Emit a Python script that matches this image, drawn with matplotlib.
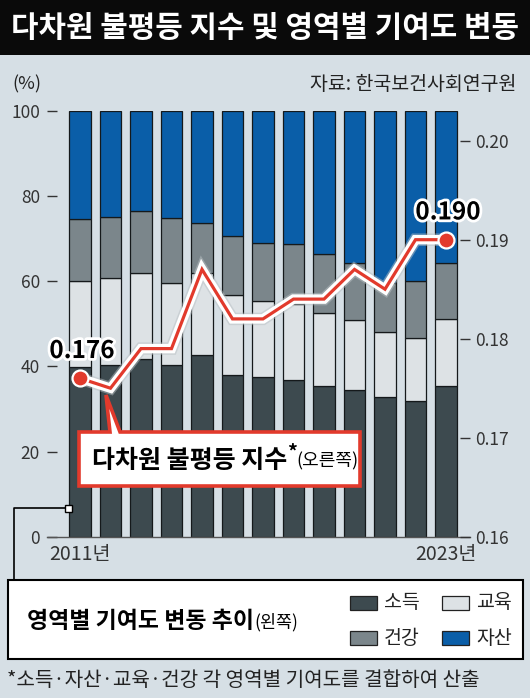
import matplotlib
matplotlib.use("Agg")
import matplotlib.pyplot as plt
import matplotlib.patheffects as pe
from matplotlib.patches import Rectangle, Polygon
from matplotlib.lines import Line2D
import numpy as np

plt.rcParams['font.family'] = ['Noto Sans CJK KR', 'DejaVu Sans']

# ---------------- data ----------------
years = [str(y) for y in range(2011, 2024)]
income = [39.8, 40.3, 41.8, 40.4, 42.6, 38.1, 37.6, 36.8, 35.3, 34.4, 32.7, 31.8, 35.4]   # 소득
education = [20.2, 20.5, 20.1, 19.3, 19.4, 18.7, 17.8, 17.8, 17.2, 16.6, 15.4, 14.8, 15.8]  # 교육
health = [14.6, 14.4, 14.7, 15.1, 11.8, 13.9, 13.5, 14.2, 13.9, 13.4, 11.4, 13.4, 13.1]     # 건강
assets = [25.4, 24.8, 23.4, 25.2, 26.2, 29.3, 31.1, 31.2, 33.6, 35.6, 40.5, 40.0, 35.7]     # 자산
index_vals = [0.176, 0.175, 0.179, 0.179, 0.187, 0.182, 0.182, 0.184, 0.184, 0.187, 0.185, 0.190, 0.190]
left_ticks = [0, 20, 40, 60, 80, 100]
right_ticks = [0.16, 0.17, 0.18, 0.19, 0.20]
right_tick_labels = ['0.16', '0.17', '0.18', '0.19', '0.20']
series_names = ['소득', '교육', '건강', '자산']

# ---------------- style ----------------
W, H = 530, 698
BG = '#d6dfe5'
C_INC = '#3d4a4f'
C_EDU = '#dde2e5'
C_HEA = '#7b868b'
C_AST = '#0a5ea8'
RED = '#e23a2c'
TXT = '#222222'


def P(x, y):
    return (x / W, 1 - y / H)


fig = plt.figure(figsize=(W / 100, H / 100), dpi=100)
fig.patch.set_facecolor(BG)

ax_l, ax_r, ax_t, ax_b = 47, 470, 111, 536.7
ax = fig.add_axes([ax_l / W, 1 - ax_b / H, (ax_r - ax_l) / W, (ax_b - ax_t) / H])
ax.set_facecolor('none')

x = np.arange(len(years))
cols = [C_INC, C_EDU, C_HEA, C_AST]
bottom = np.zeros(len(years))
for vals, c in zip([income, education, health, assets], cols):
    ax.bar(x, vals, bottom=bottom, width=0.72, color=c, edgecolor='#15191b', linewidth=0.9, zorder=2)
    bottom += np.array(vals)

ax.set_xlim(-1.082, 12.787)
ax.set_ylim(0, 100)
for s in ['top', 'left', 'right']:
    ax.spines[s].set_visible(False)
ax.spines['bottom'].set_color('#555555')
ax.spines['bottom'].set_linewidth(1.0)
ax.set_yticks(left_ticks)
ax.set_yticklabels([str(t) for t in left_ticks])
ax.tick_params(axis='y', direction='in', length=7, width=1, color='#333333',
               labelsize=12.5, labelcolor='#333333', pad=5)
ax.set_xticks([0, len(years) - 1])
ax.set_xticklabels([years[0] + '년', years[-1] + '년'])
ax.tick_params(axis='x', length=0, labelsize=14, labelcolor='#333333', pad=5)

ax2 = ax.twinx()
ax2.set_facecolor('none')
ax2.set_ylim(0.16, 0.16 + (ax_b - ax_t) / 9900.0)
for s in ['top', 'left', 'right', 'bottom']:
    ax2.spines[s].set_visible(False)
ax2.set_yticks(right_ticks)
ax2.set_yticklabels(right_tick_labels)
ax2.tick_params(axis='y', direction='in', length=7, width=1, color='#333333',
                labelsize=12.5, labelcolor='#333333', pad=4)

line, = ax2.plot(x, index_vals, color=RED, lw=2.3, solid_joinstyle='miter', zorder=5,
                 path_effects=[pe.Stroke(linewidth=9, foreground='#b8c0c4', alpha=0.5),
                               pe.Stroke(linewidth=6.8, foreground='white'), pe.Normal()])
for i in [0, len(years) - 1]:
    ax2.plot(x[i], index_vals[i], 'o', ms=11.5, mfc=RED, mec='white', mew=1.6, zorder=6)
    ax2.annotate(f'{index_vals[i]:.3f}', (x[i], index_vals[i]), xytext=(1.5, 11),
                 textcoords='offset points', ha='center', va='bottom', fontsize=17.5,
                 fontweight='bold', color='black', zorder=7,
                 path_effects=[pe.Stroke(linewidth=4, foreground='white'), pe.Normal()])

# ---------------- title bar ----------------
fig.patches.append(Rectangle(P(0, 55), 1, 55 / H, transform=fig.transFigure,
                             facecolor='#0a0a0a', edgecolor='none', zorder=1))
fig.text(*P(265, 28), '다차원 불평등 지수 및 영역별 기여도 변동', ha='center', va='center',
         fontsize=21.5, fontweight='bold', color='white')

fig.text(*P(12, 84), '(%)', ha='left', va='center', fontsize=13, color=TXT)
fig.text(*P(516, 84), '자료: 한국보건사회연구원', ha='right', va='center', fontsize=14, color=TXT)

# ---------------- callout ----------------
pts = [(79, 432), (110, 432), (106, 395), (120, 432), (360, 432), (360, 486), (79, 486)]
fig.patches.append(Polygon([P(a, b) for a, b in pts], closed=True, transform=fig.transFigure,
                           facecolor='white', edgecolor=RED, linewidth=2.6, zorder=4,
                           joinstyle='miter'))
fig.canvas.draw()
r = fig.canvas.get_renderer()
t1 = fig.text(*P(92, 461), '다차원 불평등 지수', ha='left', va='center', fontsize=18,
              fontweight='bold', color='black', zorder=5)
bb = t1.get_window_extent(r)
t2 = fig.text(bb.x1 / W - 0.001, P(0, 452)[1], '*', ha='left', va='center', fontsize=14,
              fontweight='bold', color='black', zorder=5)
bb2 = t2.get_window_extent(r)
fig.text(bb2.x1 / W - 0.001, P(0, 461)[1], '(오른쪽)', ha='left', va='center', fontsize=13,
         color='black', zorder=5)

# ---------------- connector & legend box ----------------
fig.lines.append(Line2D([P(14, 0)[0], P(14, 0)[0], P(65, 0)[0]],
                        [P(0, 580)[1], P(0, 508)[1], P(0, 508)[1]],
                        transform=fig.transFigure, color='black', lw=1.2, zorder=3))
fig.patches.append(Rectangle(P(64.5, 511.5), 7 / W, 7 / H, transform=fig.transFigure,
                             facecolor='white', edgecolor='black', lw=1.0, zorder=4))
fig.patches.append(Rectangle(P(7.5, 659), (523 - 7.5) / W, (659 - 580) / H,
                             transform=fig.transFigure, facecolor='white',
                             edgecolor='black', lw=1.5, zorder=3))
t3 = fig.text(*P(27, 621), '영역별 기여도 변동 추이', ha='left', va='center', fontsize=16.5,
              fontweight='bold', color='black', zorder=5)
bb3 = t3.get_window_extent(r)
fig.text(bb3.x1 / W + 0.001, P(0, 622)[1], '(왼쪽)', ha='left', va='center', fontsize=12.5,
         color='black', zorder=5)

leg_pos = [(350, 602.5), (442, 602.5), (350, 638), (442, 638)]
leg_cols = {'소득': C_INC, '교육': C_EDU, '건강': C_HEA, '자산': C_AST}
order = ['소득', '교육', '건강', '자산']
for (lx, ly), name in zip(leg_pos, order):
    fig.patches.append(Rectangle(P(lx, ly + 7), 27 / W, 14 / H, transform=fig.transFigure,
                                 facecolor=leg_cols[name], edgecolor='#222222', lw=0.9, zorder=5))
    fig.text(*P(lx + 34, ly), name, ha='left', va='center', fontsize=14, color='#222222', zorder=5)

fig.text(*P(7, 681), '*소득·자산·교육·건강 각 영역별 기여도를 결합하여 산출', ha='left', va='center',
         fontsize=14.5, color=TXT)

fig.savefig('out.png', dpi=100, facecolor=BG)
